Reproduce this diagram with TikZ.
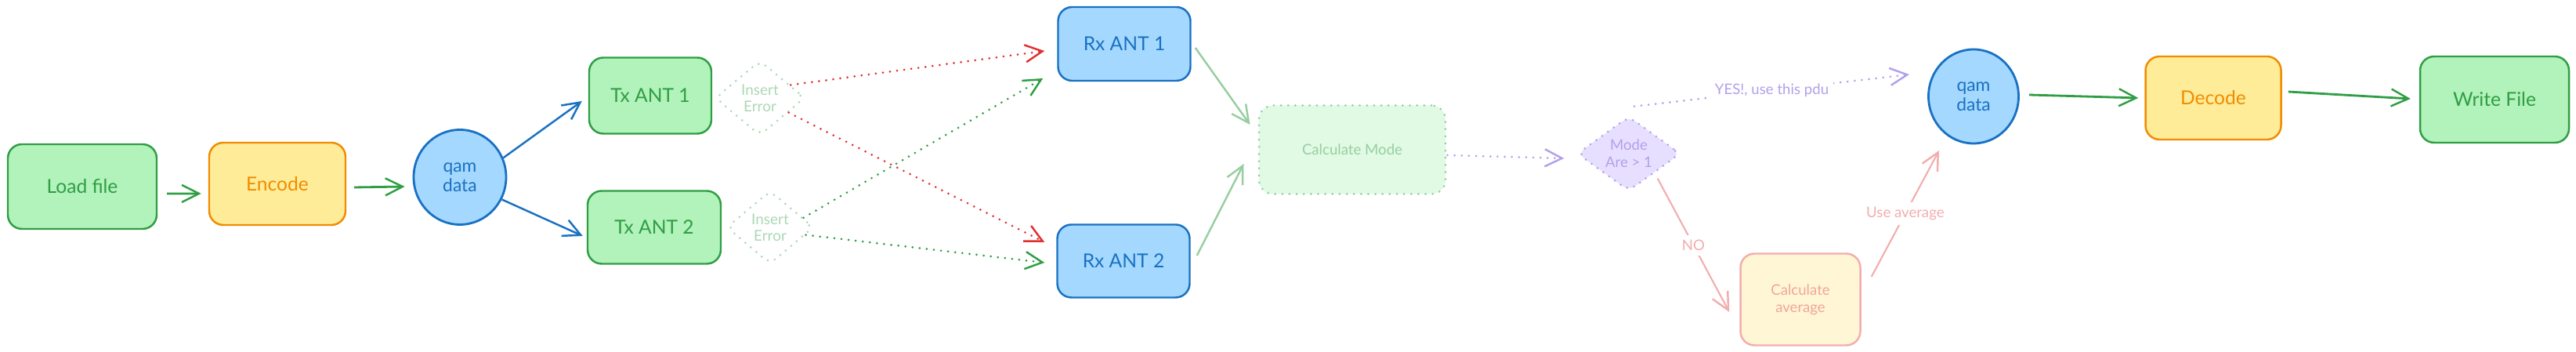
\documentclass[tikz,border=0pt]{standalone}
\usepackage{fontspec}
\setmainfont{Lato}
\usetikzlibrary{arrows.meta,shapes.geometric}
\definecolor{grnline}{HTML}{2F9E44}
\definecolor{grnfill}{HTML}{B2F2BB}
\definecolor{orgline}{HTML}{F08C00}
\definecolor{orgfill}{HTML}{FFEC99}
\definecolor{blueline}{HTML}{1971C2}
\definecolor{bluefill}{HTML}{A5D8FF}
\definecolor{redline}{HTML}{E03131}
\definecolor{palegrn}{HTML}{97CEA1}
\definecolor{fadegrn}{HTML}{ACD8B4}
\definecolor{palegrnfill}{HTML}{E0FAE4}
\definecolor{violetline}{HTML}{B3A0EC}
\definecolor{violetfill}{HTML}{E7DFFF}
\definecolor{pinkline}{HTML}{F3ADAD}
\definecolor{pinktext}{HTML}{F0A59A}
\definecolor{creamfill}{HTML}{FFF6D6}
\tikzset{
	box/.style={rectangle, rounded corners=1.8mm, line width=0.7pt, inner sep=0pt, align=center, font=\fontsize{7}{9}\selectfont},
	greenbox/.style={box, draw=grnline, fill=grnfill, text=grnline},
	orangebox/.style={box, draw=orgline, fill=orgfill, text=orgline},
	bluebox/.style={box, draw=blueline, fill=bluefill, text=blueline},
	qamblob/.style={ellipse, draw=blueline, fill=bluefill, text=blueline, line width=0.8pt, inner sep=0pt, align=center, font=\fontsize{6.5}{7.2}\selectfont},
	dots/.style={line width=0.85pt, line cap=round, dash pattern=on 0pt off 2.6pt},
	errdiamond/.style={diamond, draw=fadegrn, dots, rounded corners=1mm, text=fadegrn, inner sep=0pt, align=center, font=\fontsize{5.4}{6}\selectfont},
	tip/.style={-{Straight Barb[length=2.2mm, width=2.2mm, line width=0.7pt]}},
	grnarrow/.style={tip, draw=grnline, line width=0.8pt},
	bluearrow/.style={tip, draw=blueline, line width=0.7pt},
	reddots/.style={tip, draw=redline, dots},
	grndots/.style={tip, draw=grnline, dots},
	purpledots/.style={tip, draw=violetline, dots},
	paleline/.style={tip, draw=palegrn, line width=0.7pt},
	pinkarrow/.style={tip, draw=pinkline, line width=0.6pt},
	lbl/.style={fill=white, inner sep=0.6mm, font=\fontsize{5.3}{6}\selectfont}
}

\begin{document}
\begin{tikzpicture}[x=1mm, y=-1mm]
	%%%%% START %%%%%
	\useasboundingbox (0,0) rectangle (328.8,44.9);
	
	\node[greenbox, minimum width=19mm, minimum height=10.8mm] (load) at (10.5, 23.8) {Load file};
	\node[orangebox, minimum width=17.4mm, minimum height=10.5mm] (encode) at (35.4, 23.45) {Encode};
	\node[qamblob, minimum width=11.8mm, minimum height=12.1mm] (qamA) at (58.7, 22.6) {qam\\data};
	
	\node[greenbox, minimum width=15.6mm, minimum height=9.7mm] (tx1) at (83, 12.2) {Tx ANT 1};
	\node[greenbox, minimum width=17mm, minimum height=9.3mm] (tx2) at (83.5, 29) {Tx ANT 2};
	\node[errdiamond, minimum width=11.5mm, minimum height=9.6mm] (err1) at (97, 12.5) {Insert\\Error};
	\node[errdiamond, minimum width=11.1mm, minimum height=9.4mm] (err2) at (98.3, 29) {Insert\\Error};
	
	\node[bluebox, minimum width=16.9mm, minimum height=9.4mm] (rx1) at (143.5, 5.6) {Rx ANT 1};
	\node[bluebox, minimum width=16.9mm, minimum height=9.3mm] (rx2) at (143.4, 33.3) {Rx ANT 2};
	
	\node[box, draw=palegrn, fill=palegrnfill, text=palegrn, dots, font=\fontsize{5.3}{6}\selectfont, minimum width=23.8mm, minimum height=11.3mm] (mode) at (172.6, 19.1) {Calculate Mode};
	\node[diamond, draw=violetline, fill=violetfill, text=violetline, dots, rounded corners=1mm, inner sep=0pt, align=center, font=\fontsize{5.3}{6.2}\selectfont, minimum width=13.2mm, minimum height=9.5mm] (check) at (207.9, 19.6) {Mode\\Are {\textgreater} 1};
	\node[box, draw=pinkline, fill=creamfill, text=pinktext, font=\fontsize{5.3}{6.2}\selectfont, minimum width=15.3mm, minimum height=11.7mm] (avg) at (229.8, 38.2) {Calculate\\average};
	
	\node[qamblob, minimum width=11.5mm, minimum height=12mm] (qamB) at (251.9, 12.3) {qam\\data};
	\node[orangebox, minimum width=17.3mm, minimum height=10.6mm] (decode) at (282.5, 12.5) {Decode};
	\node[greenbox, minimum width=19mm, minimum height=11mm] (write) at (318.4, 12.7) {Write File};
	
	\draw[grnarrow] ([shift={(1.2,0.9)}]load.east) -- ([shift={(-0.9,1.25)}]encode.west);
	\draw[grnarrow] ([shift={(1,0.45)}]encode.east) -- ([shift={(-1,1.2)}]qamA.west);
	\draw[bluearrow] (qamA.24) -- ([shift={(-0.8,0.7)}]tx1.west);
	\draw[bluearrow] (qamA.-28) -- ([shift={(-0.5,1.1)}]tx2.west);
	
	\draw[reddots] (err1.23) -- ([shift={(-1.6,0.9)}]rx1.west);
	\draw[reddots] (err1.-27) -- ([shift={(-1.5,-2.4)}]rx2.west);
	\draw[grndots] (err2.16) -- ([shift={(-1.8,4.4)}]rx1.west);
	\draw[grndots] (err2.-12) -- ([shift={(-1.5,0.2)}]rx2.west);
	
	\draw[paleline] ([shift={(0.5,0.5)}]rx1.east) -- ([shift={(-1,-3.2)}]mode.west);
	\draw[paleline] ([shift={(0.8,-0.7)}]rx2.east) -- ([shift={(-1.8,1.8)}]mode.west);
	\draw[purpledots] ([shift={(0.1,0.7)}]mode.east) -- ([shift={(-1.5,0.6)}]check.west);
	
	\draw[purpledots] ([shift={(0.7,-1.1)}]check.north) -- node[lbl, text=violetline] {YES!, use this pdu} ([shift={(-2.3,-2.8)}]qamB.west);
	\draw[pinkarrow] ([shift={(0.3,0.7)}]check.south east) -- node[lbl, text=pinkline] {NO} ([shift={(-1.3,1.6)}]avg.west);
	\draw[pinkarrow] ([shift={(1.3,-2.9)}]avg.east) -- node[lbl, text=pinkline] {Use average} ([shift={(-4.4,6.9)}]qamB.center);
	
	\draw[grnarrow] ([shift={(1.2,-0.2)}]qamB.east) -- ([shift={(-0.8,0)}]decode.west);
	\draw[grnarrow] ([shift={(0.8,-0.8)}]decode.east) -- ([shift={(-1.1,-0.1)}]write.west);
	
	%%%%% END %%%%%
\end{tikzpicture}
\end{document}
